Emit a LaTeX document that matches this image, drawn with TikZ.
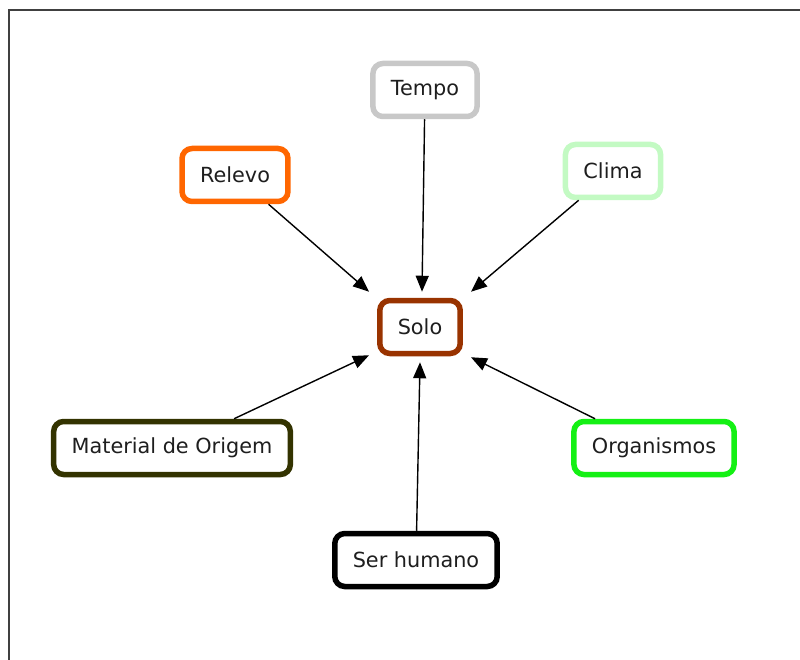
\documentclass[tikz,border=0pt]{standalone}
\usepackage{fontspec}
\setmainfont{DejaVu Sans}
\usetikzlibrary{arrows.meta,positioning,calc}
\definecolor{cTempo}{RGB}{200,200,200}
\definecolor{cRelevo}{RGB}{255,102,0}
\definecolor{cClima}{RGB}{195,250,195}
\definecolor{cSolo}{RGB}{153,51,0}
\definecolor{cMaterial}{RGB}{51,51,0}
\definecolor{cOrganismos}{RGB}{20,240,20}
\definecolor{cText}{RGB}{30,30,30}
\tikzset{
  concept/.style={draw, line width=5.5pt, rounded corners=10pt, fill=white,
    minimum height=53pt, inner xsep=18pt, text=cText,
    font=\fontsize{20.8}{24}\selectfont},
  link/.style={line width=1.4pt, -{Triangle[length=16pt,width=13pt]}}
}

\begin{document}
\begin{tikzpicture}[x=1pt,y=-1pt]
    \useasboundingbox (0,0) rectangle (800,660);
    % Frame
    \draw[line width=2pt, black!75] (9,670) -- (9,10) -- (810,10);

    % Concepts
    \node[concept, draw=cSolo] (solo) at (420,327) {Solo};
    \node[concept, draw=cTempo] (tempo) at (425,90) {Tempo};
    \node[concept, draw=cRelevo] (relevo) at (235,175) {Relevo};
    \node[concept, draw=cClima] (clima) at (613,171) {Clima};
    \node[concept, draw=cMaterial] (material) at (172,448) {Material de Origem};
    \node[concept, draw=cOrganismos] (organismos) at (654,448) {Organismos};
    \node[concept, draw=black] (humano) at (416,560) {Ser humano};

    % Links into Solo
    \draw[link] (relevo) -- ([shift={(-8pt,6pt)}]solo.north west);
    \draw[link] (tempo) -- ([shift={(2pt,6pt)}]solo.north);
    \draw[link] (clima) -- ([shift={(8pt,6pt)}]solo.north east);
    \draw[link] (material) -- ([shift={(-8pt,1pt)}]solo.south west);
    \draw[link] (humano) -- ([yshift=-6pt]solo.south);
    \draw[link] (organismos) -- ([shift={(8pt,-1pt)}]solo.south east);
\end{tikzpicture}
\end{document}
